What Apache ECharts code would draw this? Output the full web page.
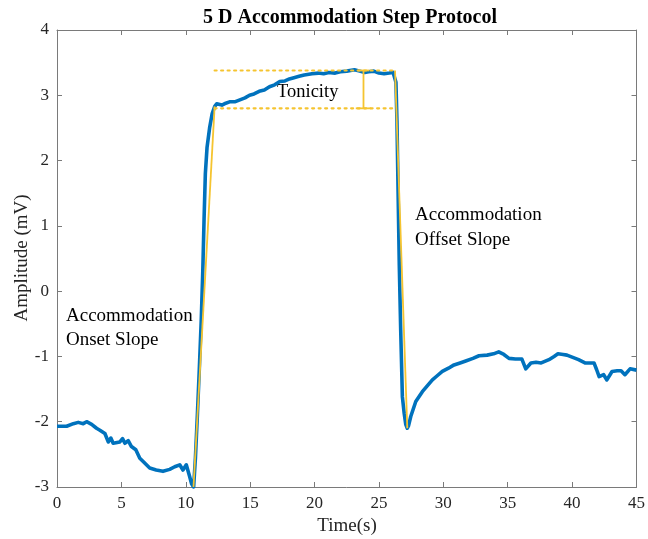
<!DOCTYPE html>
<html>
<head>
<meta charset="utf-8">
<script src="https://cdn.jsdelivr.net/npm/echarts@6/dist/echarts.min.js"></script>
<style>html,body{margin:0;padding:0;background:#fff;}#c{width:648px;height:539px;}</style>
</head>
<body>
<div id="c"></div>
<script>
// Measured response (time s, amplitude mV)
const responseTime = [0,0.1,0.75,1.27,1.65,2.04,2.3,2.69,3.07,3.33,3.72,3.98,4.18,4.36,4.88,5.09,5.27,5.53,5.78,6.12,6.43,6.69,6.82,7.2,7.7,8.23,8.75,9.14,9.27,9.53,9.78,10.04,10.17,10.3,10.45,10.61,10.75,10.9,11.05,11.2,11.32,11.42,11.52,11.65,11.85,12.05,12.25,12.4,12.55,12.8,13.0,13.4,13.8,14.2,14.6,14.95,15.3,15.7,16.1,16.5,16.9,17.3,17.7,18.05,18.4,18.8,19.2,19.8,20.3,20.7,21.1,21.6,22.0,22.5,23.1,23.5,23.9,24.2,24.6,25.0,25.4,25.8,26.1,26.25,26.32,26.4,26.48,26.58,26.69,26.82,26.96,27.08,27.2,27.3,27.47,27.86,28.37,28.8,29.15,29.5,29.92,30.4,30.83,31.3,31.74,32.3,32.77,33.4,33.9,34.3,34.7,35.1,35.6,36.1,36.4,36.8,37.2,37.6,38.2,38.6,38.9,39.3,39.6,40.0,40.5,41.0,41.7,41.9,42.1,42.45,42.7,43.1,43.5,43.8,44.1,44.5,45.0];
const responseAmp = [-2.07,-2.08,-2.07,-2.03,-2.01,-2.03,-2.0,-2.04,-2.1,-2.13,-2.18,-2.31,-2.25,-2.33,-2.31,-2.26,-2.33,-2.29,-2.38,-2.43,-2.56,-2.61,-2.64,-2.71,-2.74,-2.76,-2.73,-2.69,-2.69,-2.66,-2.74,-2.66,-2.65,-2.84,-2.95,-3.0,-2.55,-1.9,-1.2,-0.45,0.3,1.1,1.8,2.2,2.5,2.72,2.83,2.87,2.84,2.85,2.87,2.9,2.9,2.93,2.96,3.0,3.02,3.06,3.08,3.13,3.16,3.21,3.22,3.25,3.27,3.29,3.31,3.33,3.34,3.33,3.35,3.34,3.36,3.37,3.39,3.37,3.35,3.36,3.37,3.34,3.33,3.34,3.35,3.38,3.2,2.6,1.6,0.4,-0.6,-1.62,-1.87,-2.04,-2.1,-2.06,-1.92,-1.69,-1.54,-1.44,-1.36,-1.3,-1.23,-1.18,-1.13,-1.1,-1.07,-1.03,-0.99,-0.98,-0.96,-0.93,-0.97,-1.03,-1.04,-1.04,-1.19,-1.1,-1.09,-1.1,-1.05,-1.0,-0.96,-0.97,-0.98,-1.01,-1.05,-1.1,-1.1,-1.2,-1.31,-1.28,-1.36,-1.23,-1.22,-1.22,-1.28,-1.19,-1.21];
// Yellow slope / tonicity guides
const onsetSlope = [[10.6,-3.0],[12.24,2.83]];
const offsetSlope = [[26.25,3.38],[27.2,-2.1]];
const upperLevel = [[12.24,3.38],[26.3,3.38]];
const lowerLevel = [[12.24,2.8],[26.1,2.8]];
const tonicityBar = [[23.8,3.38],[23.8,2.8]];
const tonicityCapLow = [[23.2,2.8],[24.4,2.8]];
const tonicityCapHigh = [[23.35,3.38],[24.25,3.38]];
const xTicks = [0,5,10,15,20,25,30,35,40,45];
const yTicks = [-3,-2,-1,0,1,2,3,4];

const blue = '#0072BD', gold = '#F5C430', axisCol = '#7a7a7a', txt = '#262626';
const serif = '"Liberation Serif","Times New Roman",serif';
const chart = echarts.init(document.getElementById('c'), null, {renderer:'canvas'});
const axisCommon = {
  type:'value', splitLine:{show:false},
  axisLine:{show:true, onZero:false, lineStyle:{color:axisCol, width:1}},
  axisTick:{show:true, inside:true, length:5, lineStyle:{color:axisCol}},
};
const seg = (d, dashed, w) => ({type:'line', data:d, symbol:'none', silent:true, z:dashed?4:5,
  lineStyle:{color:gold, width:w||1.8, type: dashed?[2,4.5]:'solid', cap: dashed?'round':'butt'}});
chart.setOption({
  animation:false,
  grid:{left:57, right:10, top:30, bottom:52},
  xAxis:[
    Object.assign({}, axisCommon, {min:xTicks[0], max:xTicks[xTicks.length-1], interval:5, position:'bottom',
      axisLabel:{color:txt, fontFamily:serif, fontSize:17, margin:8}}),
    Object.assign({}, axisCommon, {min:xTicks[0], max:xTicks[xTicks.length-1], interval:5, position:'top', axisLabel:{show:false}})
  ],
  yAxis:[
    Object.assign({}, axisCommon, {min:yTicks[0], max:yTicks[yTicks.length-1], interval:1, position:'left',
      axisLabel:{color:txt, fontFamily:serif, fontSize:17, margin:8}}),
    Object.assign({}, axisCommon, {min:yTicks[0], max:yTicks[yTicks.length-1], interval:1, position:'right', axisLabel:{show:false}})
  ],
  series:[
    {type:'line', data:responseTime.map((t,i)=>[t,responseAmp[i]]), symbol:'none', z:3,
      lineStyle:{color:blue, width:3.6, join:'round'}},
    seg(onsetSlope,false), seg(offsetSlope,false),
    seg(upperLevel,true,2.2), seg(lowerLevel,true,2.2),
    seg(tonicityBar,false,1.8), seg(tonicityCapLow,false,1.8), seg(tonicityCapHigh,false,1.8)
  ],
  graphic:[
    {type:'text', left:203, top:8, style:{text:'5 D Accommodation Step Protocol', font:'bold 20px '+serif, fill:'#000'}},
    {type:'text', style:{text:'Tonicity', x:277, y:92, textVerticalAlign:'middle', font:'18.5px '+serif, fill:'#000'}},
    {type:'text', style:{text:'Accommodation', x:415, y:215, textVerticalAlign:'middle', font:'19px '+serif, fill:'#000'}},
    {type:'text', style:{text:'Offset Slope', x:415, y:240, textVerticalAlign:'middle', font:'19px '+serif, fill:'#000'}},
    {type:'text', style:{text:'Accommodation', x:66, y:316, textVerticalAlign:'middle', font:'19px '+serif, fill:'#000'}},
    {type:'text', style:{text:'Onset Slope', x:66, y:340, textVerticalAlign:'middle', font:'19px '+serif, fill:'#000'}},
    {type:'text', style:{text:'Time(s)', x:347, y:526, textAlign:'center', textVerticalAlign:'middle', font:'19px '+serif, fill:txt}},
    {type:'text', rotation:Math.PI/2, x:22, y:258, style:{text:'Amplitude (mV)', x:0, y:0, textAlign:'center', textVerticalAlign:'middle', font:'19px '+serif, fill:txt}}
  ]
});
</script>
</body>
</html>
